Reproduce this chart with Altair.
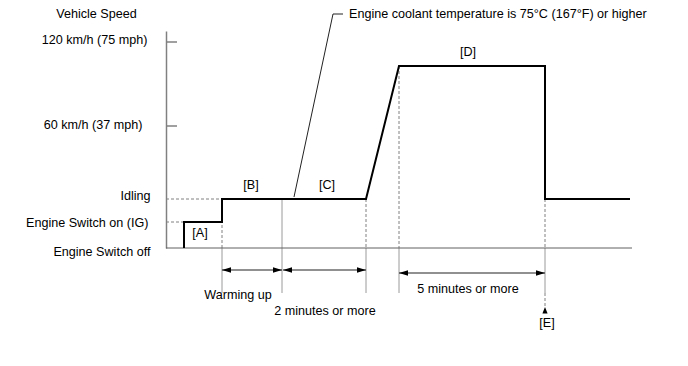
import altair as alt
import pandas as pd

FONT = "Liberation Sans"
FS = 12.6

# Schematic units: x = elapsed time (arbitrary), y = level above "Engine Switch off"
step_x = [18, 18, 56, 56, 200, 233, 379, 379, 464]
step_y = [0, 26, 26, 49, 49, 182, 182, 49, 49]

level_values = [0, 26, 49, 122, 206]
level_labels = ["Engine Switch off", "Engine Switch on (IG)", "Idling",
                "60 km/h (37 mph)", "120 km/h (75 mph)"]
tick_levels = [122, 206]

hdash_x0 = [0, 0]
hdash_x1 = [18, 56]
hdash_y = [26, 49]

vdash_x = [56, 200, 233, 379, 379]
vdash_y0 = [23, 49, 182, 49, -45]
vdash_y1 = [0, 0, 0, 0, -60]

vsolid_x = [56, 116, 200, 233, 379]
vsolid_y0 = [0, 49, 0, 0, 0]
vsolid_y1 = [-45, -45, -45, -45, -45]

arrow_x0 = [56, 117, 233]
arrow_x1 = [116, 200, 379]
arrow_y = [-22, -22, -25]

e_x = [379]
e_y = [-59]

leader_x = [128, 167, 177]
leader_y = [51, 234, 234]

label_text = ["[A]", "[B]", "[C]", "[D]", "[E]", "Warming up", "2 minutes or more", "5 minutes or more"]
label_x = [34, 85, 161, 302, 381, 72, 159, 302]
label_y = [15, 63, 63, 196, -75, -47, -63, -41]

note_text = ["Engine coolant temperature is 75°C (167°F) or higher"]
note_x = [183]
note_y = [234]

XDOM = [0, 466]
YDOM = [0, 217]

label_map = "{" + ",".join(f"'{v}':'{t}'" for v, t in zip(level_values, level_labels)) + "}"

y_axis = alt.Axis(
    values=level_values,
    labelExpr=label_map + "[datum.value]",
    ticks=False, grid=False,
    domainColor="#808080", domainWidth=1.5,
    labelFont=FONT, labelFontSize=FS, labelColor="black",
    labelBaseline="middle",
    labelPadding={"condition": [{"test": "datum.value == 26", "value": 18},
                                {"test": "datum.value == 122", "value": 24},
                                {"test": "datum.value == 206", "value": 19}],
                  "value": 16},
    labelOffset={"condition": [{"test": "datum.value == 0", "value": 3},
                               {"test": "datum.value == 49", "value": -4},
                               {"test": "datum.value == 122", "value": -2},
                               {"test": "datum.value == 206", "value": -3}],
                 "value": 0},
    title="Vehicle Speed", titleAngle=0, titleAlign="center", titleBaseline="middle",
    titleX=-70, titleY=-18, titleFont=FONT, titleFontSize=FS,
    titleFontWeight="normal", titleColor="black",
)


def X(f):
    return alt.X(f, type="quantitative", scale=alt.Scale(domain=XDOM, nice=False, zero=False), axis=None)


def Y(f):
    return alt.Y(f, type="quantitative", scale=alt.Scale(domain=YDOM, nice=False, zero=False), axis=y_axis)


step_df = pd.DataFrame({"x": step_x, "y": step_y, "o": list(range(len(step_x)))})
step = alt.Chart(step_df).mark_line(color="black", strokeWidth=2, strokeJoin="miter").encode(
    x=X("x"), y=Y("y"), order="o:Q")

base_df = pd.DataFrame({"x": [XDOM[0]], "x2": [XDOM[1]], "y": [0]})
baseline = alt.Chart(base_df).mark_rule(color="#606060", strokeWidth=1).encode(
    x=X("x"), x2="x2", y=Y("y"))

tick_df = pd.DataFrame({"x": [0] * len(tick_levels), "x2": [11] * len(tick_levels), "y": tick_levels})
ticks = alt.Chart(tick_df).mark_rule(color="#808080", strokeWidth=1.5).encode(
    x=X("x"), x2="x2", y=Y("y"))

hd_df = pd.DataFrame({"x": hdash_x0, "x2": hdash_x1, "y": hdash_y})
hdash = alt.Chart(hd_df).mark_rule(color="#808080", strokeWidth=1, strokeDash=[3, 2]).encode(
    x=X("x"), x2="x2", y=Y("y"))

vd_df = pd.DataFrame({"x": vdash_x, "y": vdash_y0, "y2": vdash_y1})
vdash = alt.Chart(vd_df).mark_rule(color="#808080", strokeWidth=1, strokeDash=[3, 2]).encode(
    x=X("x"), y=Y("y"), y2="y2")

vs_df = pd.DataFrame({"x": vsolid_x, "y": vsolid_y0, "y2": vsolid_y1})
vsolid = alt.Chart(vs_df).mark_rule(color="#9a9a9a", strokeWidth=1).encode(
    x=X("x"), y=Y("y"), y2="y2")

ar_df = pd.DataFrame({"x": arrow_x0, "x2": arrow_x1, "y": arrow_y})
shafts = alt.Chart(ar_df).mark_rule(color="#222222", strokeWidth=1.2).encode(
    x=X("x"), x2="x2", y=Y("y"))
head_l = alt.Chart(ar_df).mark_point(shape="M0,0L2,-0.6L2,0.6Z", filled=True, color="black",
                                     opacity=1, size=81).encode(x=X("x"), y=Y("y"))
head_r = alt.Chart(ar_df).mark_point(shape="M0,0L-2,-0.6L-2,0.6Z", filled=True, color="black",
                                     opacity=1, size=81).encode(x=X("x2"), y=Y("y"))

e_df = pd.DataFrame({"x": e_x, "y": e_y})
head_e = alt.Chart(e_df).mark_point(shape="M0,0L-0.8,2L0.8,2Z", filled=True, color="black",
                                    opacity=1, size=42).encode(x=X("x"), y=Y("y"))

ld_df = pd.DataFrame({"x": leader_x, "y": leader_y, "o": list(range(len(leader_x)))})
leader = alt.Chart(ld_df).mark_line(color="#222222", strokeWidth=1).encode(
    x=X("x"), y=Y("y"), order="o:Q")

lb_df = pd.DataFrame({"x": label_x, "y": label_y, "t": label_text})
labels = alt.Chart(lb_df).mark_text(font=FONT, fontSize=FS, color="black", align="center",
                                    baseline="middle").encode(x=X("x"), y=Y("y"), text="t:N")

nt_df = pd.DataFrame({"x": note_x, "y": note_y, "t": note_text})
note = alt.Chart(nt_df).mark_text(font=FONT, fontSize=FS, color="black", align="left",
                                  baseline="middle").encode(x=X("x"), y=Y("y"), text="t:N")

chart = alt.layer(
    vsolid, vdash, hdash, ticks, baseline, shafts, head_l, head_r, head_e,
    leader, step, labels, note,
).properties(
    width=466, height=217,
    padding={"left": 158, "top": 23, "right": 48, "bottom": 110},
    autosize=alt.AutoSizeParams(type="none"),
    background="white",
).configure_view(stroke=None)

chart.save("out.html", embed_options={"renderer": "svg", "actions": False})
